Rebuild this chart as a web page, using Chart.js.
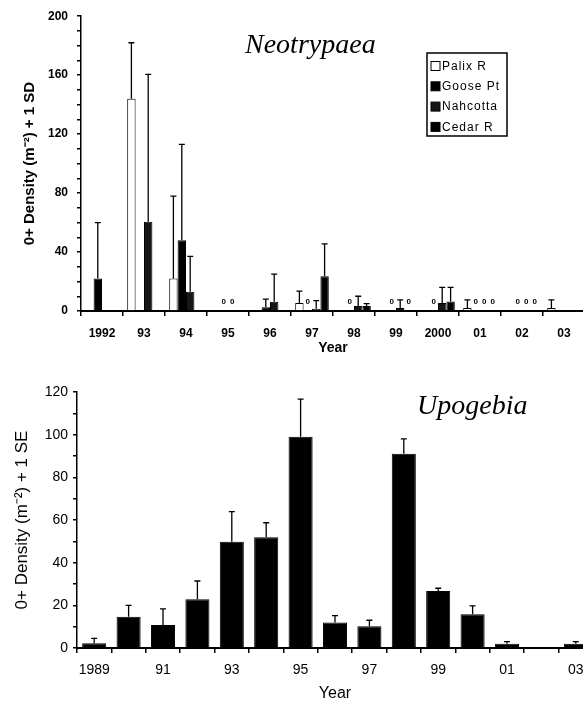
<!DOCTYPE html>
<html>
<head>
  <title>Neotrypaea / Upogebia 0+ density</title>
  <script src="https://cdn.jsdelivr.net/npm/chart.js@4.4.1/dist/chart.umd.min.js"></script>
  <style>
    html, body { margin: 0; padding: 0; background: #fff; overflow: hidden; }
    canvas { display: block; }
  </style>
</head>
<body>
  <canvas id="neoChart" width="600" height="358"></canvas>
  <canvas id="upoChart" width="600" height="344"></canvas>
  <script>
    // top panel: Neotrypaea, four sites (null = not sampled, 0 = sampled, none found)
    var neoYears = ['1992', '93', '94', '95', '96', '97', '98', '99', '2000', '01', '02', '03'];
    var palix      = [null, 144,  22, null, null,  5.5, null, null, null,   2, null,    2];
    var palixSD    = [null,  38,  56, null, null,    8, null, null, null, 5.5, null,  5.5];
    var goose      = [  22, null, 48,    0,  2.5,    0,    0,    0,    0,   0,    0, null];
    var gooseSD    = [  38, null, 65, null,  5.5, null, null, null, null, null, null, null];
    var nahcotta   = [null, 60.5, 13,    0,  6.3,  1.5,  3.4,    2,  5.5,   0,    0, null];
    var nahcottaSD = [null, 100,  24, null, 18.7,  5.5,  6.6,  5.5, 10.5, null, null, null];
    var cedar      = [null, null, null, null, null, 23.5,  3.4,    0,  6.5,   0,    0, null];
    var cedarSD    = [null, null, null, null, null,   22,  1.6, null,  9.5, null, null, null];

    // bottom panel: Upogebia
    var upoYears = ['1989', '1990', '1991', '1992', '1993', '1994', '1995', '1996', '1997', '1998', '1999', '2000', '2001', '2002', '2003'];
    var upoTickLabels = ['1989', '', '91', '', '93', '', '95', '', '97', '', '99', '', '01', '', '03'];
    var upoMean = [2.2, 14.7, 10.8, 22.8, 49.8, 51.9, 99, 11.9, 10.2, 91, 26.7, 15.8, 2, null, 2];
    var upoSE   = [2.3,  5.3,  7.5,  8.6, 14.1,  6.8, 17.7, 3.3,  2.8,  7,  1.3,  3.9, 1, null, 1];

    var sans = 'Arial, "Liberation Sans", sans-serif';

    // error bars, "0" marks, italic panel title and boxed legend
    var extrasPlugin = {
      id: 'extras',
      afterDatasetsDraw: function(chart, args, opts) {
        var ctx = chart.ctx;
        var yScale = chart.scales.y;
        var zeroY = yScale.getPixelForValue(0);
        ctx.save();
        chart.data.datasets.forEach(function(ds, i) {
          var meta = chart.getDatasetMeta(i);
          var sd = opts.errors[i];
          meta.data.forEach(function(bar, j) {
            var v = ds.data[j];
            if (v === null || v === undefined) return;
            if (v === 0 && opts.zeroMarks) {
              ctx.fillStyle = '#000';
              ctx.font = 'bold 8px ' + sans;
              ctx.textAlign = 'center';
              ctx.textBaseline = 'middle';
              ctx.fillText('0', bar.x, zeroY - 9);
              return;
            }
            if (sd && sd[j] != null) {
              var yTop = yScale.getPixelForValue(v + sd[j]);
              ctx.strokeStyle = '#000';
              ctx.lineWidth = 1.3;
              ctx.beginPath();
              ctx.moveTo(bar.x, bar.y);
              ctx.lineTo(bar.x, yTop);
              ctx.moveTo(bar.x - 3, yTop);
              ctx.lineTo(bar.x + 3, yTop);
              ctx.stroke();
            }
          });
        });
        ctx.restore();
      },
      afterDraw: function(chart, args, opts) {
        var ctx = chart.ctx;
        ctx.save();
        ctx.fillStyle = '#000';
        ctx.font = 'italic 28px "Liberation Serif", "Times New Roman", serif';
        ctx.textAlign = 'left';
        ctx.textBaseline = 'alphabetic';
        ctx.fillText(opts.title, opts.titleX, opts.titleY);

        if (opts.legendBox) {
          var b = opts.legendBox;
          ctx.strokeStyle = '#000';
          ctx.lineWidth = 1.5;
          ctx.strokeRect(b.x, b.y, b.w, b.h);
          ctx.font = '12px ' + sans;
          ctx.letterSpacing = '1px';
          ctx.textBaseline = 'middle';
          chart.data.datasets.forEach(function(ds, i) {
            var cy = b.y + 13 + i * 20.3;
            ctx.fillStyle = ds.backgroundColor;
            ctx.fillRect(b.x + 4, cy - 4.5, 9, 9);
            ctx.strokeStyle = '#000';
            ctx.lineWidth = 1;
            ctx.strokeRect(b.x + 4, cy - 4.5, 9, 9);
            ctx.fillStyle = '#000';
            ctx.fillText(ds.label, b.x + 15, cy + 0.5);
          });
        }
        ctx.restore();
      }
    };

    function barSet(label, values, color) {
      return {
        label: label,
        data: values,
        backgroundColor: color,
        borderColor: '#000',
        borderWidth: 1,
        barPercentage: 1,
        categoryPercentage: 0.8
      };
    }

    var neoChart = new Chart(document.getElementById('neoChart'), {
      type: 'bar',
      data: {
        labels: neoYears,
        datasets: [
          barSet('Palix R', palix, '#ffffff'),
          barSet('Goose Pt', goose, '#000000'),
          barSet('Nahcotta', nahcotta, '#161616'),
          barSet('Cedar R', cedar, '#000000')
        ]
      },
      options: {
        responsive: false,
        animation: false,
        devicePixelRatio: 1,
        layout: { padding: { top: 16, right: 15, left: 0, bottom: 0 } },
        plugins: {
          legend: { display: false },
          tooltip: { enabled: false },
          extras: {
            errors: [palixSD, gooseSD, nahcottaSD, cedarSD],
            zeroMarks: true,
            title: 'Neotrypaea',
            titleX: 245,
            titleY: 53,
            legendBox: { x: 427, y: 53, w: 80, h: 83 }
          }
        },
        scales: {
          x: {
            offset: true,
            grid: { offset: true, drawOnChartArea: false, tickLength: 5, color: '#000', lineWidth: 1.5 },
            border: { color: '#000', width: 2 },
            ticks: { color: '#000', font: { family: sans, size: 12, weight: 'bold' }, padding: 10, maxRotation: 0, autoSkip: false },
            title: { display: true, text: 'Year', color: '#000', font: { family: sans, size: 14, weight: 'bold', lineHeight: 1 }, padding: { top: 0, bottom: 3 } },
            afterFit: function(scale) { scale.height = 47; }
          },
          y: {
            min: 0,
            max: 200,
            grid: { drawOnChartArea: false, tickLength: 4, color: '#000', lineWidth: 1.5 },
            border: { color: '#000', width: 1.5 },
            ticks: {
              stepSize: 10,
              autoSkip: false,
              padding: 9,
              color: '#000',
              font: { family: sans, size: 12, weight: 'bold' },
              callback: function(v) { return v % 40 === 0 ? v : ''; }
            },
            title: { display: true, text: '0+ Density (m\u207B\u00B2) + 1 SD', color: '#000', font: { family: sans, size: 15, weight: 'bold' }, padding: { top: 21, bottom: 0 } },
            afterFit: function(scale) { scale.width = 81; }
          }
        }
      },
      plugins: [extrasPlugin]
    });

    var upoChart = new Chart(document.getElementById('upoChart'), {
      type: 'bar',
      data: {
        labels: upoYears,
        datasets: [{
          label: 'Upogebia',
          data: upoMean,
          backgroundColor: '#000000',
          borderColor: '#000000',
          borderWidth: 1,
          barPercentage: 0.7,
          categoryPercentage: 1
        }]
      },
      options: {
        responsive: false,
        animation: false,
        devicePixelRatio: 1,
        layout: { padding: { top: 34, right: 7, left: 0, bottom: 0 } },
        plugins: {
          legend: { display: false },
          tooltip: { enabled: false },
          extras: {
            errors: [upoSE],
            zeroMarks: false,
            title: 'Upogebia',
            titleX: 417,
            titleY: 56
          }
        },
        scales: {
          x: {
            offset: true,
            grid: { offset: true, drawOnChartArea: false, tickLength: 5, color: '#000', lineWidth: 1.5 },
            border: { color: '#000', width: 2 },
            ticks: {
              color: '#000',
              font: { family: sans, size: 14 },
              padding: 9,
              maxRotation: 0,
              autoSkip: false,
              callback: function(v, i) { return upoTickLabels[i]; }
            },
            title: { display: true, text: 'Year', color: '#000', font: { family: sans, size: 16, lineHeight: 1 }, padding: { top: 0, bottom: 0 } },
            afterFit: function(scale) { scale.height = 54; }
          },
          y: {
            min: 0,
            max: 120,
            grid: { drawOnChartArea: false, tickLength: 4, color: '#000', lineWidth: 1.5 },
            border: { color: '#000', width: 1.5 },
            ticks: {
              stepSize: 10,
              autoSkip: false,
              padding: 5,
              color: '#000',
              font: { family: sans, size: 14 },
              callback: function(v) { return v % 20 === 0 ? v : ''; }
            },
            title: { display: true, text: '0+ Density (m\u207B\u00B2) + 1 SE', color: '#000', font: { family: sans, size: 17 }, padding: { top: 12, bottom: 0 } },
            afterFit: function(scale) { scale.width = 77; }
          }
        }
      },
      plugins: [extrasPlugin]
    });
  </script>
</body>
</html>
